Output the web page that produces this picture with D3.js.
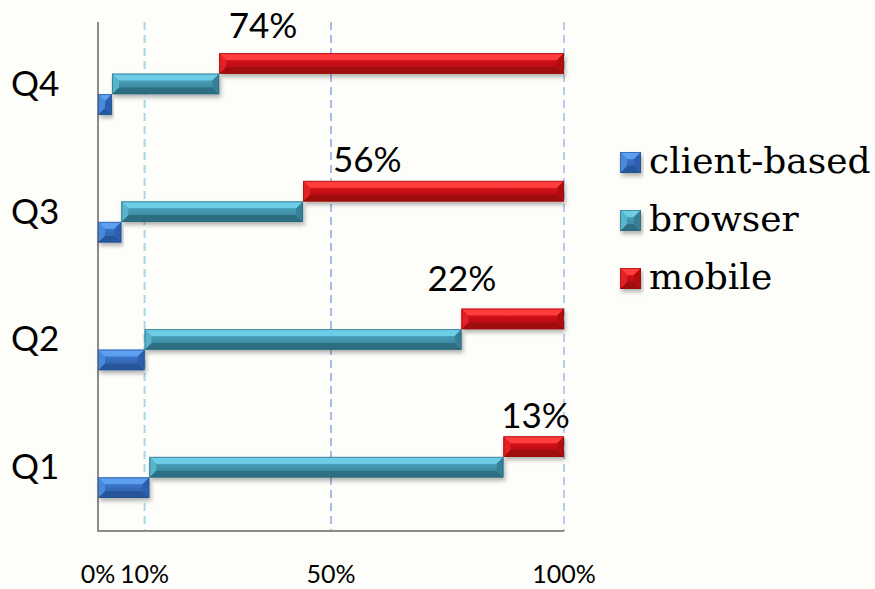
<!DOCTYPE html>
<html>
<head>
<meta charset="utf-8">
<script src="https://cdn.jsdelivr.net/npm/d3@7"></script>
<style>
  html, body { margin: 0; padding: 0; background: #fdfdf9; }
  svg { display: block; }
</style>
</head>
<body>
<svg id="chart" width="875" height="589"></svg>
<script>
// Quarterly share by access channel (percent of each quarter)
const quarters = ["Q1", "Q2", "Q3", "Q4"];
const seriesNames = ["client-based", "browser", "mobile"];
const clientBased = [11, 10, 5, 3];
const browser = [76, 68, 39, 23];
const mobile = [13, 22, 56, 74];
const tickValues = [0, 10, 50, 100];
const gridValues = [10, 50, 100];
// where each mobile label sits along the axis (percent) and its lift above the bar (px)
const labelAt = [93.9, 78.1, 57.8, 35.4];
const labelLift = [8, 18, 9, 15];

const W = 875, H = 589;
const margin = { left: 98, right: 311, top: 20, bottom: 58 };
const svg = d3.select("#chart");

const x = d3.scaleLinear().domain([0, 100]).range([margin.left, W - margin.right]);
const y = d3.scaleBand().domain(quarters.slice().reverse()).range([margin.top, H - margin.bottom]);

const palettes = {
  "client-based": { top: "#5d9ff0", face: "#3b74c8", bottom: "#27559c", left: "#4a89dc", right: "#2d5fae", edge: "#22508f" },
  "browser":      { top: "#6dcce6", face: "#469fb8", bottom: "#2e6e82", left: "#58b4cc", right: "#387f95", edge: "#2b6677" },
  "mobile":       { top: "#ff3c3c", face: "#d4121a", bottom: "#a0090e", left: "#e42126", right: "#b20c11", edge: "#960a0d" }
};

const defs = svg.append("defs");
const shadow = defs.append("filter").attr("id", "barShadow")
  .attr("x", "-5%").attr("y", "-30%").attr("width", "115%").attr("height", "190%");
shadow.append("feDropShadow").attr("dx", 1.5).attr("dy", 3).attr("stdDeviation", 2)
  .attr("flood-color", "#000").attr("flood-opacity", 0.3);

Object.entries(palettes).forEach(([k, p], i) => {
  const g = defs.append("linearGradient").attr("id", "face" + i).attr("x1", 0).attr("y1", 0).attr("x2", 0).attr("y2", 1);
  g.append("stop").attr("offset", "0%").attr("stop-color", p.face);
  g.append("stop").attr("offset", "100%").attr("stop-color", d3.color(p.face).darker(0.35));
});

// gridlines
const gridColor = { 10: "#a8d6ea", 50: "#a7bde7", 100: "#b9c9ef" };
svg.append("g").selectAll("line").data(gridValues).join("line")
  .attr("x1", d => x(d)).attr("x2", d => x(d))
  .attr("y1", margin.top + 2).attr("y2", H - margin.bottom)
  .attr("stroke", d => gridColor[d]).attr("stroke-width", 2)
  .attr("stroke-dasharray", "8,5");

// axes lines
svg.append("line").attr("x1", x(0)).attr("x2", x(0))
  .attr("y1", margin.top + 2).attr("y2", H - margin.bottom + 1)
  .attr("stroke", "#8c8c8c").attr("stroke-width", 2);
svg.append("line").attr("x1", x(0)).attr("x2", x(100))
  .attr("y1", H - margin.bottom).attr("y2", H - margin.bottom)
  .attr("stroke", "#8c8c8c").attr("stroke-width", 2);

// build staggered segments
const barH = 20.5;
const rows = quarters.map((q, i) => {
  const vals = [clientBased[i], browser[i], mobile[i]];
  let acc = 0;
  return vals.map((v, j) => {
    const seg = { q, i, j, name: seriesNames[j], x0: acc, x1: acc + v, v };
    acc += v;
    return seg;
  });
});

function drawBevelBar(g, x0, y0, w, h, p, gi) {
  const b = Math.min(7, w / 2, h / 2);
  g.append("rect").attr("x", x0).attr("y", y0).attr("width", w).attr("height", h).attr("fill", p.face);
  const poly = (pts, fill) => g.append("polygon").attr("points", pts.map(d => d.join(",")).join(" ")).attr("fill", fill);
  poly([[x0, y0], [x0 + w, y0], [x0 + w - b, y0 + b], [x0 + b, y0 + b]], p.top);
  poly([[x0, y0 + h], [x0 + w, y0 + h], [x0 + w - b, y0 + h - b], [x0 + b, y0 + h - b]], p.bottom);
  poly([[x0, y0], [x0 + b, y0 + b], [x0 + b, y0 + h - b], [x0, y0 + h]], p.left);
  poly([[x0 + w, y0], [x0 + w - b, y0 + b], [x0 + w - b, y0 + h - b], [x0 + w, y0 + h]], p.right);
  g.append("rect").attr("x", x0 + b).attr("y", y0 + b).attr("width", Math.max(0, w - 2 * b)).attr("height", Math.max(0, h - 2 * b))
    .attr("fill", `url(#face${gi})`);
  g.append("rect").attr("x", x0 + 0.5).attr("y", y0 + 0.5).attr("width", w - 1).attr("height", h - 1)
    .attr("fill", "none").attr("stroke", p.edge).attr("stroke-width", 1).attr("stroke-opacity", 0.6);
}

const barsG = svg.append("g");
rows.forEach(segs => {
  const center = y(segs[0].q) + y.bandwidth() / 2;
  const groupTop = center - 1.5 * barH;
  // draw lowest first so upper bars' shadows fall over lower ones
  segs.slice().reverse().forEach(s => {
    const top = groupTop + (2 - s.j) * barH;
    const g = barsG.append("g").attr("filter", "url(#barShadow)");
    drawBevelBar(g, x(s.x0), top, x(s.x1) - x(s.x0), barH, palettes[s.name], s.j);
  });
});

// mobile value labels
svg.append("g").selectAll("text").data(rows).join("text")
  .attr("x", (d, i) => x(labelAt[i]))
  .attr("y", d => y(d[0].q) + y.bandwidth() / 2 - 1.5 * barH - labelLift[d[0].i])
  .attr("text-anchor", "middle")
  .attr("font-family", "Lato, 'Open Sans', sans-serif")
  .attr("font-size", 35).attr("fill", "#000")
  .text(d => d[2].v + "%");

// category labels
svg.append("g").selectAll("text").data(quarters).join("text")
  .attr("x", 11).attr("y", d => y(d) + y.bandwidth() / 2 + 12)
  .attr("font-family", "Lato, 'Open Sans', sans-serif")
  .attr("font-size", 35).attr("fill", "#000")
  .text(d => d);

// x tick labels
svg.append("g").selectAll("text").data(tickValues).join("text")
  .attr("x", d => x(d)).attr("y", 583)
  .attr("text-anchor", "middle")
  .attr("font-family", "Lato, 'Open Sans', sans-serif")
  .attr("font-size", 25).attr("fill", "#000")
  .text(d => d + "%");

// legend
const legend = svg.append("g").attr("transform", "translate(620,0)");
const legendRows = legend.selectAll("g").data(seriesNames).join("g")
  .attr("transform", (d, i) => `translate(0,${173 + i * 58})`);
legendRows.each(function (d, i) {
  const g = d3.select(this).append("g").attr("filter", "url(#barShadow)");
  drawBevelBar(g, 0, -21, 21, 21, palettes[d], i);
});
legendRows.append("text").attr("x", 29).attr("y", 0)
  .attr("font-family", "'DejaVu Serif', serif")
  .attr("font-size", 36).attr("fill", "#000")
  .text(d => d);
</script>
</body>
</html>
